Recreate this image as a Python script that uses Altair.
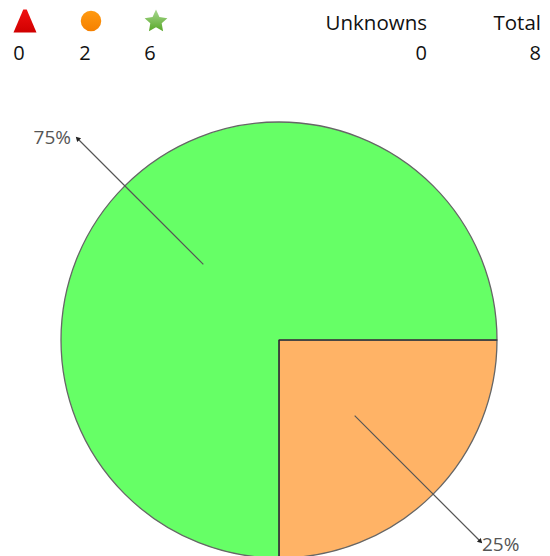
import math
import altair as alt
import pandas as pd

slice_names = ["Orange", "Green"]
slice_values = [2, 6]
slice_colors = ["#FFB366", "#66FF66"]

status_counts = [0, 2, 6]
status_x = [19, 85, 150]
icon_x = [25, 91, 156]
summary_names = ["Unknowns", "Total"]
summary_counts = [0, 8]
summary_right = [427, 541]

# page-pixel frame: the chart origin sits at the 8px page margin
W, H = 534, 548
CX, CY, R = 279, 340, 218
LEAD_IN, LEAD_OUT = 107, 285
FONT = "Open Sans"

total = sum(slice_values)
rows, acc = [], 0
for name, value, color in zip(slice_names, slice_values, slice_colors):
    start = math.pi / 2 + acc / total * 2 * math.pi
    acc += value
    end = math.pi / 2 + acc / total * 2 * math.pi
    mid = (start + end) / 2
    rows.append(dict(name=name, value=value, color=color, start=start, end=end,
                     cx=CX, cy=CY,
                     x1=CX + LEAD_IN * math.sin(mid), y1=CY - LEAD_IN * math.cos(mid),
                     x2=CX + LEAD_OUT * math.sin(mid), y2=CY - LEAD_OUT * math.cos(mid),
                     ex=CX + R * math.sin(end), ey=CY - R * math.cos(end),
                     angle=math.degrees(mid) % 360,
                     label=f"{round(value / total * 100)}%"))
pie = pd.DataFrame(rows)

xs = alt.Scale(domain=[8, 8 + W], range=[0, W])
ys = alt.Scale(domain=[8, 8 + H], range=[0, H])
X = lambda f: alt.X(f, type="quantitative", scale=xs, axis=None)
Y = lambda f: alt.Y(f, type="quantitative", scale=ys, axis=None)

arcs = alt.Chart(pie).mark_arc(outerRadius=R, stroke="#666666", strokeWidth=1.3).encode(
    x=X("cx"), y=Y("cy"),
    theta=alt.Theta("start:Q", scale=None), theta2=alt.Theta2("end:Q"),
    fill=alt.Fill("color:N", scale=None),
)
edges = alt.Chart(pie).mark_rule(color="#222222", strokeWidth=1.2).encode(
    x=X("cx"), y=Y("cy"), x2="ex:Q", y2="ey:Q")
leaders = alt.Chart(pie).mark_rule(color="#555555", strokeWidth=1.2).encode(
    x=X("x1"), y=Y("y1"), x2="x2:Q", y2="y2:Q")
heads = alt.Chart(pie).mark_point(filled=True, shape="triangle-up", size=30, color="#222222", opacity=1).encode(
    x=X("x2"), y=Y("y2"), angle=alt.Angle("angle:Q", scale=None))

lab_l = alt.Chart(pd.DataFrame(dict(x=[71], y=[138], t=[pie.label[1]]))).mark_text(
    align="right", baseline="middle", font=FONT, fontSize=19, color="#555555"
).encode(x=X("x"), y=Y("y"), text="t:N")
lab_r = alt.Chart(pd.DataFrame(dict(x=[482], y=[545], t=[pie.label[0]]))).mark_text(
    align="left", baseline="middle", font=FONT, fontSize=19, color="#555555"
).encode(x=X("x"), y=Y("y"), text="t:N")

counts = alt.Chart(pd.DataFrame(dict(x=status_x, y=[54] * 3, t=status_counts))).mark_text(
    align="center", baseline="middle", font=FONT, fontSize=20, color="#111111"
).encode(x=X("x"), y=Y("y"), text="t:N")
heads_txt = alt.Chart(pd.DataFrame(dict(x=summary_right, y=[24] * 2, t=summary_names))).mark_text(
    align="right", baseline="middle", font=FONT, fontSize=20.5, color="#111111"
).encode(x=X("x"), y=Y("y"), text="t:N")
vals_txt = alt.Chart(pd.DataFrame(dict(x=summary_right, y=[54] * 2, t=summary_counts))).mark_text(
    align="right", baseline="middle", font=FONT, fontSize=20, color="#111111"
).encode(x=X("x"), y=Y("y"), text="t:N")


def grad(c1, c2):
    return alt.Gradient(gradient="linear", x1=0, y1=0, x2=0, y2=1,
                        stops=[alt.GradientStop(offset=0, color=c1),
                               alt.GradientStop(offset=1, color=c2)])


def icon(x, y, shape, size, c1, c2):
    return alt.Chart(pd.DataFrame(dict(x=[x], y=[y]))).mark_point(
        filled=True, shape=shape, size=size, fill=grad(c1, c2), opacity=1
    ).encode(x=X("x"), y=Y("y"))


icons = [
    icon(icon_x[0], 21, "M-0.15,-1L0.15,-1L1,1L-1,1Z", 529, "#F01010", "#D00000"),
    icon(icon_x[1], 21, "circle", 420, "#FF9A10", "#F58000"),
    icon(icon_x[2], 21, "M0,-1L0.3,-0.35L1,-0.25L0.5,0.2L0.62,0.9L0,0.55L-0.62,0.9L-0.5,0.2L-1,-0.25L-0.3,-0.35Z",
         520, "#A8D890", "#58A828"),
]

chart = alt.layer(arcs, edges, leaders, heads, lab_l, lab_r, counts, heads_txt, vals_txt, *icons).properties(
    width=W, height=H, padding=0, background="white", autosize=alt.AutoSizeParams(type="none")
).configure_view(stroke=None)

chart.save("out.html", embed_options={"renderer": "svg", "actions": False})
